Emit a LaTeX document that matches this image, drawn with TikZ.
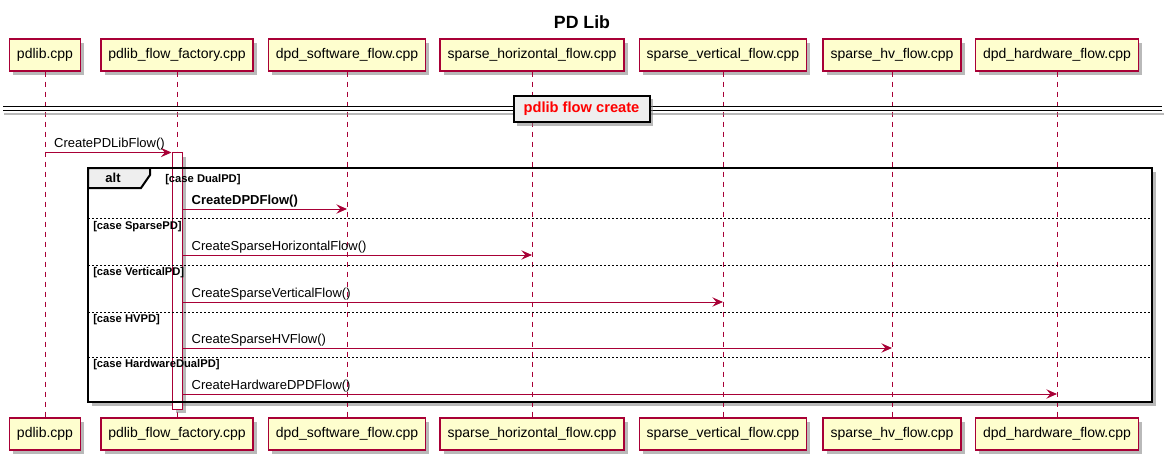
\documentclass[tikz,border=0pt]{standalone}
\usepackage{fontspec}
\setmainfont{Liberation Sans}
\usetikzlibrary{arrows.meta,shadows}
\definecolor{umlred}{HTML}{A80036}
\definecolor{umlyellow}{HTML}{FEFECE}
\definecolor{umlgrey}{HTML}{EEEEEE}
\tikzset{
	umlshadow/.style={drop shadow={shadow xshift=2.8pt,shadow yshift=-2.8pt,fill=black!50,opacity=.55}},
	part/.style={draw=umlred,fill=umlyellow,line width=1.1pt,minimum height=24pt,inner xsep=5.6pt,font=\fontsize{10.5}{12}\selectfont,umlshadow},
	life/.style={draw=umlred,line width=0.75pt,dash pattern=on 3.75pt off 3.75pt},
	actbar/.style={draw=umlred,fill=white,line width=0.75pt,minimum width=7.5pt,minimum height=192pt,inner sep=0pt,umlshadow},
	msg/.style={draw=umlred,line width=0.75pt,-{Stealth[length=8pt,width=7pt,inset=3pt]}},
	msglbl/.style={anchor=south west,inner xsep=6.5pt,inner ysep=1.2pt,font=\fontsize{9.75}{11}\selectfont},
	guard/.style={anchor=west,inner sep=0pt,font=\bfseries\fontsize{8.4}{10}\selectfont},
	altsep/.style={draw=black,line width=0.6pt,dash pattern=on 1.5pt off 1.5pt},
}

\begin{document}
\begin{tikzpicture}[x=0.75pt,y=0.75pt,yscale=-1,xscale=1]
	\useasboundingbox (0,0) rectangle (1172,460);
	\node[font=\bfseries\fontsize{13.3}{15}\selectfont] (title) at (582,22) {PD Lib};
	% participants, top and bottom
	\foreach \p/\x/\t in {pdlib/45/pdlib.cpp, factory/177/pdlib\_flow\_factory.cpp, dpdsw/347/dpd\_software\_flow.cpp, horiz/532/sparse\_horizontal\_flow.cpp, vert/723/sparse\_vertical\_flow.cpp, hv/892/sparse\_hv\_flow.cpp, dpdhw/1057/dpd\_hardware\_flow.cpp}{
		\node[part] (top-\p) at (\x,55) {\t};
		\node[part] (bot-\p) at (\x,434) {\t};
	}
	% alt frame shadow
	\fill[black!50,opacity=.55] (91.5,171.5) rectangle (1156,406);
	\fill[white] (88,168) rectangle (1152,402);
	% lifelines
	\foreach \p in {pdlib,factory,dpdsw,horiz,vert,hv,dpdhw}
		\draw[life] (top-\p.south) -- (bot-\p.north);
	% divider
	\draw[black!50,opacity=.55,line width=1.6pt] (4,113.8) -- (1164,113.8);
	\draw[line width=1.1pt] (3,106.7) -- (1162,106.7);
	\draw[line width=1.1pt] (3,110.7) -- (1162,110.7);
	\node[draw=black,fill=umlgrey,line width=1.5pt,minimum width=102pt,minimum height=20pt,text=red,font=\bfseries\fontsize{11}{13}\selectfont,umlshadow] (divider) at (581.5,109) {pdlib flow create};
	% activation
	\node[actbar] (act) at (177,281) {};
	% alt frame
	\draw[fill=umlgrey,line width=1.5pt] (88,168) -- (150,168) -- (150,175) -- (141,188) -- (88,188) -- cycle;
	\draw[line width=1.5pt] (88,168) rectangle (1152,402);
	\node[font=\bfseries\fontsize{9.75}{11}\selectfont] (alt) at (113,178) {alt};
	\foreach \y in {218,265,312,357}
		\draw[altsep] (88,\y) -- (1152,\y);
	\node[guard] (g1) at (165,179.5) {[case DualPD]};
	\node[guard] (g2) at (93,226.5) {[case SparsePD]};
	\node[guard] (g3) at (93,273) {[case VerticalPD]};
	\node[guard] (g4) at (93,319.5) {[case HVPD]};
	\node[guard] (g5) at (93,365) {[case HardwareDualPD]};
	% messages
	\draw[msg] (top-pdlib |- act.north) -- node[msglbl,pos=0] {CreatePDLibFlow()} (act.north west);
	\draw[msg] (act.east |- 0,209) -- node[msglbl,pos=0,font=\bfseries\fontsize{9.75}{11}\selectfont] {CreateDPDFlow()} (top-dpdsw |- 0,209);
	\draw[msg] (act.east |- 0,255) -- node[msglbl,pos=0] {CreateSparseHorizontalFlow()} (top-horiz |- 0,255);
	\draw[msg] (act.east |- 0,302) -- node[msglbl,pos=0] {CreateSparseVerticalFlow()} (top-vert |- 0,302);
	\draw[msg] (act.east |- 0,348) -- node[msglbl,pos=0] {CreateSparseHVFlow()} (top-hv |- 0,348);
	\draw[msg] (act.east |- 0,394) -- node[msglbl,pos=0] {CreateHardwareDPDFlow()} (top-dpdhw |- 0,394);
\end{tikzpicture}
\end{document}
